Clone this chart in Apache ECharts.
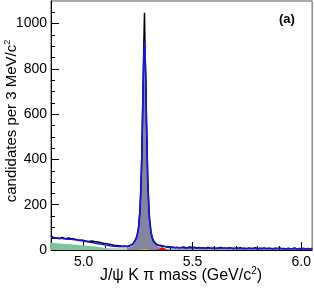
<!DOCTYPE html>
<html>
<head>
<meta charset="utf-8">
<script src="https://cdn.jsdelivr.net/npm/echarts@6/dist/echarts.min.js"></script>
<style>
html,body{margin:0;padding:0;background:#fff;}
#c{width:314px;height:289px;}
</style>
</head>
<body>
<div id="c"></div>
<script>
// ---- Data (counts per 3 MeV/c^2) ----
// low-mass sideband data, 5 MeV spacing starting at 4.850
const lowDataStart = 4.850, lowDataStep = 0.005;
const lowDataCounts = [64,58,55,60,53,57,52,55,50,54,56,49,52,55,50,47,53,49,51,47,50,44,48,52,45,47,43,49,44,46,
  42,45,40,44,38,42,39,36,40,35,37,33,36,31,34,30,32,28,30,27,29,25,27,23,25,21,23,19,21,18,20,17,19,16,18,15,17,16,18,20];
// peak region data, 3 MeV bins
const peakStart = 5.1986, peakStep = 0.003;
const peakDataCounts = [18,15,20,17,22,19,24,20,27,25,32,29,40,44,50,60,70,86,102,140,170,245,330,420,600,740,910,
  1048,850,760,570,450,300,240,165,125,108,76,70,52,50,38,37,30,31,24,27,21,25,20,26,22,20,21,17];
// high-mass sideband data, 10 MeV spacing starting at 5.37
const highStart = 5.37, highStep = 0.01;
const highDataCounts = [17,14,15,12,13,10,12,9,11,13,9,11,14,10,12,8,11,9,10,7,11,9,8,10,7,9,11,8,9,7,10,8,6,9,8,10,7,8,6,9,
  7,8,10,6,8,7,9,6,8,7,5,8,7,9,6,7,5,8,6,7,9,5,7,6,8,5,7,6,7];

// total fit (blue)
const lowFitStart = 4.85, lowFitStep = 0.01;
const lowFitCounts = [56,55,54,53,52,51,50,49,48,47,46,45,44,42,41,39,38,36,34,33,31,29,27,26,24,22,21,19,18,17,16,15,15,15,15];
const peakFitCounts = [16,17,18,19,19,20,21,22,24,26,29,32,36,41,47,55,66,80,100,130,173,233,318,438,588,748,868,
  923,868,748,588,438,318,233,173,130,100,80,66,55,47,41,36,32,29,26,24,23,22,23,24,23,21,19,17];
const highFitCounts = [16,13,11.5,10.5,10.2,10,9.8,9.6,9.5,9.3,9.2,9,8.9,8.8,8.7,8.6,8.5,8.4,8.3,8.2,8.1,8,7.9,7.9,7.8,7.7,7.6,7.6,7.5,7.4,
  7.4,7.3,7.2,7.2,7.1,7,7,6.9,6.9,6.8,6.8,6.7,6.7,6.6,6.6,6.5,6.5,6.4,6.4,6.3,6.3,6.2,6.2,6.1,6.1,6,6,6,5.9,5.9,5.9,5.8,5.8,5.8,5.7,5.7,5.7,5.6,5.6];

// signal component (grey), same bins as peak region
const signalCounts = [7,8,9,10,11,12,13,14,16,18,21,24,28,33,39,47,58,72,92,122,165,225,310,430,580,740,860,
  915,860,740,580,430,310,225,165,122,92,72,58,47,39,33,28,24,21,18,16,14,13,12,11,10,9,8,7];

// background components
const greenMass = [4.85,4.90,4.95,5.00,5.05,5.10,5.13];
const greenCounts = [32,28,24,20,15,9,0];
const lightMass = [5.08,5.10,5.15,5.20,5.25,5.30,5.33,5.36,5.40];
const lightCounts = [0,9,11,12,11,8,5,3,0];
const redMass = [5.335,5.345,5.352,5.358,5.363,5.368,5.375,5.383,5.390];
const redCounts = [0,3,8,12,13,11,6,2,0];
const yellowMass = [5.255,5.265,5.280,5.295,5.305];
const yellowCounts = [0,2,3,2,0];

// axis ticks
const xMajor = [5.0,5.5,6.0];
const xMinor = [4.9,5.1,5.2,5.3,5.4,5.6,5.7,5.8,5.9];
const yMajor = [0,200,400,600,800,1000];
const yMinor = [50,100,150,250,300,350,450,500,550,650,700,750,850,900,950,1050];

// ---- build ----
function seq(start, step, vals){ return vals.map((v,i)=>[+(start+i*step).toFixed(4), v]); }
function pairs(xs, ys){ return xs.map((x,i)=>[x, ys[i]]); }

const dataPts = seq(lowDataStart, lowDataStep, lowDataCounts)
  .concat(seq(peakStart, peakStep, peakDataCounts))
  .concat(seq(highStart, highStep, highDataCounts));
const fitPts = seq(lowFitStart, lowFitStep, lowFitCounts)
  .concat(seq(peakStart, peakStep, peakFitCounts))
  .concat(seq(highStart, highStep, highFitCounts));
const sigPts = seq(peakStart, peakStep, signalCounts);

const FONT = 'Liberation Sans';
const chart = echarts.init(document.getElementById('c'), null, {renderer:'canvas'});
function richFor(size){
  return {
    n: { fontSize: size, fontFamily: FONT, fill:'#000' },
    sup: { fontSize: Math.round(size*0.62), verticalAlign: 'top', padding:[0,0,9,0], fontFamily: FONT, fill:'#000' }
  };
}

function xAx(major){
  return {
    type:'value', min:4.85, max:6.05, position:'bottom',
    axisLine:{show: major, onZero:false, lineStyle:{color:'#000', width:1}},
    axisTick:{show:true, inside:true, length: major?8:4, lineStyle:{color:'#000'}, customValues: major?xMajor:xMinor},
    axisLabel:{show: major, customValues: xMajor, formatter: v=>v.toFixed(1), fontFamily:FONT, fontSize:14, color:'#000', margin:5},
    splitLine:{show:false}
  };
}
function yAx(major){
  return {
    type:'value', min:0, max:1100, position:'left',
    axisLine:{show: major, lineStyle:{color:'#000', width:1}},
    axisTick:{show:true, inside:true, length: major?8:4, lineStyle:{color:'#000'}, customValues: major?yMajor:yMinor},
    axisLabel:{show: major, customValues: yMajor, formatter: v=>String(v), fontFamily:FONT, fontSize:14, color:'#000', margin:4},
    splitLine:{show:false}
  };
}

const option = {
  animation:false,
  backgroundColor:'#fff',
  grid:{left:51, right:1, top:1, bottom:39, show:true, borderColor:'#555', borderWidth:1, backgroundColor:'transparent'},
  xAxis:[xAx(true), xAx(false)],
  yAxis:[yAx(true), yAx(false)],
  series:[
    {type:'line', data:pairs(lightMass, lightCounts), showSymbol:false, lineStyle:{width:0}, areaStyle:{color:'#c9c9c9', opacity:1}, z:1},
    {type:'line', data:pairs(greenMass, greenCounts), showSymbol:false, lineStyle:{width:0}, areaStyle:{color:'#7cc49a', opacity:1}, z:2},
    {type:'line', data:sigPts, showSymbol:false, lineStyle:{width:0.5, color:'#8484a0'}, areaStyle:{color:'#8484a0', opacity:1}, z:3},
    {type:'line', data:pairs(yellowMass, yellowCounts), showSymbol:false, lineStyle:{width:0}, areaStyle:{color:'#e0cc00', opacity:1}, z:4},
    {type:'line', data:pairs(redMass, redCounts), showSymbol:false, lineStyle:{width:0}, areaStyle:{color:'#ff0000', opacity:1}, z:4},
    {type:'line', data:dataPts, showSymbol:false, lineStyle:{width:1.5, color:'#000'}, z:5},
    {type:'line', data:fitPts, showSymbol:false, smooth:false, lineStyle:{width:1.5, color:'#1414f0'}, z:6}
  ],
  graphic:[
    {type:'text', left:279, top:13, style:{text:'(a)', font:'bold 13px "Liberation Sans"', fill:'#000'}},
    {type:'text', x:181, y:276, style:{text:'{n|J/ψ K π mass (GeV/c}{sup|2}{n|)}', rich:richFor(16), align:'center', verticalAlign:'middle'}},
    {type:'text', x:12, y:121, rotation:Math.PI/2, style:{text:'{n|candidates per 3 MeV/c}{sup|2}', rich:richFor(15), align:'center', verticalAlign:'middle'}}
  ]
};
chart.setOption(option);
</script>
</body>
</html>
